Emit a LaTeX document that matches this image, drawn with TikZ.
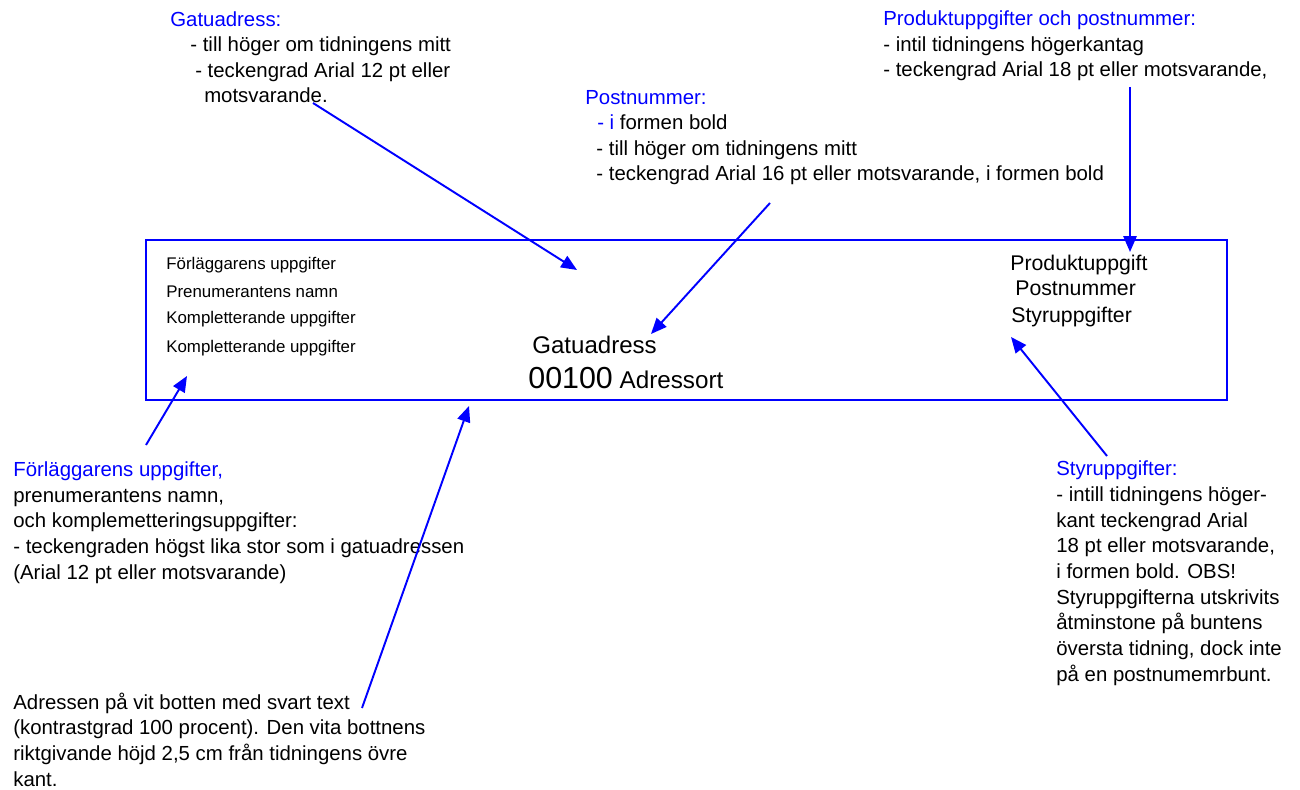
\documentclass[tikz,border=0pt]{standalone}
\usepackage{fontspec}
\setmainfont{Liberation Sans}
\usetikzlibrary{arrows.meta}

\begin{document}
\begin{tikzpicture}[x=0.02cm,y=-0.02cm,
  note/.style={anchor=base west,align=left,inner sep=0pt,font={\fontsize{11.6}{14.6}\selectfont}},
  inbox/.style={anchor=base west,inner sep=0pt},
  pil/.style={blue,line width=1.1pt,-{Triangle[length=9pt,width=7.5pt]}}]
\useasboundingbox (0,0) rectangle (1300,790);

% adresslappen
\coordinate (boxNW) at (146,240);
\coordinate (boxSE) at (1227,400);
\draw[blue,line width=1.1pt] (boxNW) rectangle (boxSE);
\foreach \txt/\yy/\i in {Förläggarens uppgifter/270/1,Prenumerantens namn/297/2,
    Kompletterande uppgifter/323/3,Kompletterande uppgifter/352/4}
  \node[inbox,font={\fontsize{9.6}{11}\selectfont}] (vanster\i) at (166,\yy) {\txt};
\node[inbox,font={\fontsize{13.7}{16}\selectfont}] (gatuadr) at (532,353) {Gatuadress};
\node[inbox,font={\fontsize{13.8}{16}\selectfont}] (adrort) at (528,388) {{\fontsize{17.3}{20}\selectfont 00100} Adressort};
\node[inbox,font={\fontsize{12.1}{14}\selectfont}] (produkt) at (1010,271) {Produktuppgift};
\node[inbox,font={\fontsize{12.1}{14}\selectfont}] (postnr) at (1015,296) {Postnummer};
\node[inbox,font={\fontsize{12.1}{14}\selectfont}] (styr) at (1011,322) {Styruppgifter};

% forklaringar ovanfor (placerade vid sista radens baslinje)
\node[note] (gatuNote) at (170,103) {\textcolor{blue}{Gatuadress:}\\
  \hspace*{11.4pt}- till höger om tidningens mitt\\
  \hspace*{14.2pt}- teckengrad Arial 12 pt eller\\
  \hspace*{19.3pt}motsvarande.};
\node[note] (postNote) at (585,181) {\textcolor{blue}{Postnummer:}\\
  \hspace*{6.8pt}\textcolor{blue}{- i} formen bold\\
  \hspace*{6.3pt}- till höger om tidningens mitt\\
  \hspace*{6.3pt}- teckengrad Arial 16 pt eller motsvarande, i formen bold};
\node[note] (produktNote) at (883,77) {\textcolor{blue}{Produktuppgifter och postnummer:}\\
  - intil tidningens högerkantag\\
  - teckengrad Arial 18 pt eller motsvarande,};

% forklaringar nedanfor
\node[note] (forlNote) at (13,579) {\textcolor{blue}{Förläggarens uppgifter,}\\
  prenumerantens namn,\\
  och komplemetteringsuppgifter:\\
  - teckengraden högst lika stor som i gatuadressen\\
  (Arial 12 pt eller motsvarande)};
\node[note] (styrNote) at (1056,681) {\textcolor{blue}{Styruppgifter:}\\
  - intill tidningens höger-\\
  kant teckengrad Arial\\
  18 pt eller motsvarande,\\
  i formen bold. OBS!\\
  Styruppgifterna utskrivits\\
  åtminstone på buntens\\
  översta tidning, dock inte\\
  på en postnumemrbunt.};
\node[note] (adrNote) at (13,786) {Adressen på vit botten med svart text\\
  (kontrastgrad 100 procent). Den vita bottnens\\
  riktgivande höjd 2,5 cm från tidningens övre\\
  kant.};

% pilar
\coordinate (gatuTail) at (313,103);
\coordinate (gatuTip) at (577,270);
\coordinate (postTail) at (770,203);
\coordinate (postTip) at (651,334);
\coordinate (produktTail) at (1130,87);
\coordinate (produktTip) at (1130,252);
\coordinate (forlTail) at (146,445);
\coordinate (forlTip) at (187,376);
\coordinate (adrTail) at (362,708);
\coordinate (adrTip) at (469,406);
\coordinate (styrTail) at (1107,456);
\coordinate (styrTip) at (1011,337);
\draw[pil] (gatuTail) -- (gatuTip);
\draw[pil] (postTail) -- (postTip);
\draw[pil] (produktTail) -- (produktTip);
\draw[pil] (forlTail) -- (forlTip);
\draw[pil] (adrTail) -- (adrTip);
\draw[pil] (styrTail) -- (styrTip);
\end{tikzpicture}
\end{document}
